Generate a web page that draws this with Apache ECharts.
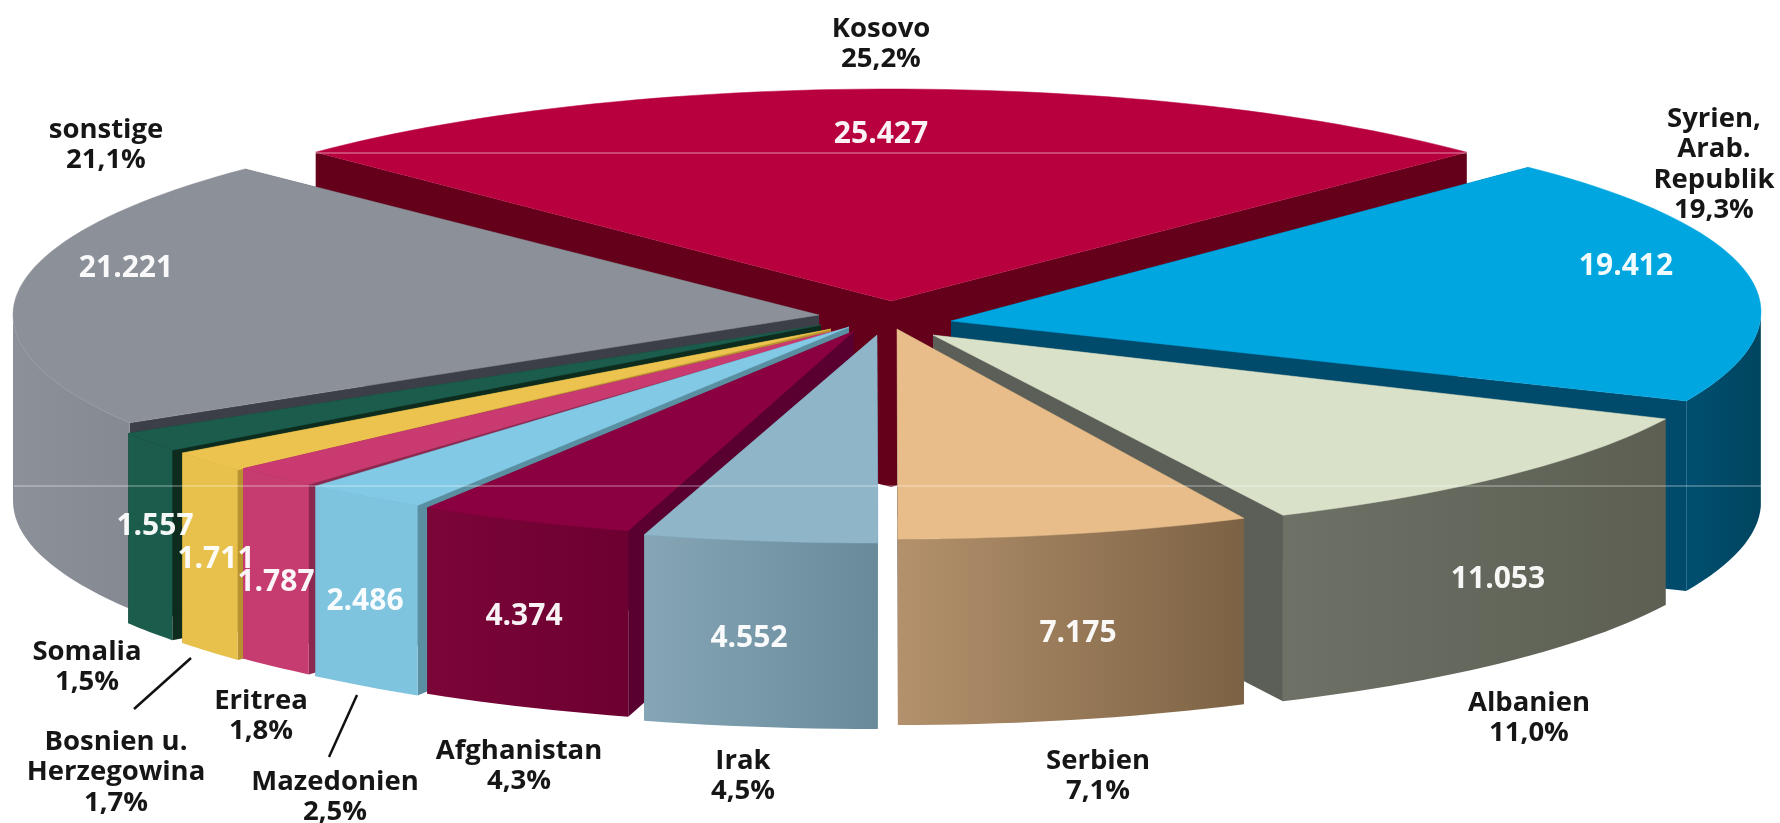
<!DOCTYPE html>
<html><head><meta charset="utf-8">
<style>html,body{margin:0;padding:0;background:#fff}#c{width:1780px;height:823px}</style>
<script src="https://cdn.jsdelivr.net/npm/echarts@6/dist/echarts.min.js"></script>
</head><body><div id="c"></div>
<script>
const categories = ['Kosovo','Syrien, Arab. Republik','Albanien','Serbien','Irak','Afghanistan','Mazedonien','Eritrea','Bosnien u. Herzegowina','Somalia','sonstige'];
const values = [25427,19412,11053,7175,4552,4374,2486,1787,1711,1557,21221];
const valueLabels = ['25.427','19.412','11.053','7.175','4.552','4.374','2.486','1.787','1.711','1.557','21.221'];
const percentLabels = ['25,2%','19,3%','11,0%','7,1%','4,5%','4,3%','2,5%','1,8%','1,7%','1,5%','21,1%'];
const nameLines = [['Kosovo'],['Syrien,','Arab.','Republik'],['Albanien'],['Serbien'],['Irak'],['Afghanistan'],['Mazedonien'],['Eritrea'],['Bosnien u.','Herzegowina'],['Somalia'],['sonstige']];

// Appearance and layout only (pixels of the 1780x823 canvas)
const START_ANGLE = -45.4;
const paintOrder = [0,10,1,9,8,7,6,5,2,4,3];
const geom = [ // cx, cy, rx, ry, depth, shear
 [891,301,808,212,186,0],[951,321,810,210,190,-9],[933,335,807,200,186,0],[897,329,800,210,186,0],
 [877,335,834,208,186,0],[854,331,809,208,186,0],[849,327,818,210,190,0],[843,329,819,205,190,0],
 [831,329,810,207,190,0],[821,325,810,209,190,0],[819,315,806,208,186,0]];
const topColors = ['#b9003e','#00a6e0','#d9e2c9','#e8bd89','#8fb5c9','#8a0040','#82c9e5','#c93a70','#ebc34e','#1b5c4c','#8c9098'];
const wallColors = ['#64001a','#004a6c','#5b5f58','#6b6a60','#5f8a9c','#5a0030','#5a8fa2','#8a2850','#b8922e','#0d2c1e','#3c3f47'];
const sideStops = [['#64001a','#64001a'],['#004f70','#00455f'],['#6d7166','#5c5f52'],['#b3916c','#7c6244'],['#86a6b6','#688a9a'],['#7c0538','#6c0030'],['#7fc4df','#7fc4df'],['#c63c70','#c63c70'],['#e8c04c','#e8c04c'],['#1b5c4c','#1b5c4c'],['#8c9098','#858a92']];
const valuePos = [[881,134],[1626,266],[1498,579],[1078,633],[749,638],[524,616],[365,601],[276,582],[216,559],[155,526],[126,268]];
const namePos = [[881,29],[1714,119],[1529,703],[1098,761],[743,761],[519,751],[335,782],[261,701],[116,742],[87,652],[106,130]];
const hairlines = [[315,153,1467,153,0.55],[14,486,1762,486,0.5]];
const leaders = [[191,658,134,709],[357,695,329,757]];
const FONT = '"Open Sans", "Noto Sans", sans-serif';
const LINE = 30.5;

const total = values.reduce((a,b)=>a+b,0);
const startAngles = []; let acc = START_ANGLE;
values.forEach(v=>{startAngles.push(acc); acc += v/total*360;});

function pt(g,a,dy,api){
  const r = a*Math.PI/180, s = Math.sin(r);
  return api.coord([g[0]+s*g[2], g[1]-Math.cos(r)*g[3]+s*g[5]+(dy||0)]);
}
function renderSlice(params, api){
  const i = api.value(1);
  const g = geom[i], a0 = startAngles[i], a1 = a0 + api.value(0)/total*360, d = g[4];
  const top = [api.coord([g[0],g[1]])];
  const N = Math.max(8,Math.ceil((a1-a0)/1.5));
  const arc = [];
  for(let k=0;k<=N;k++) arc.push(a0+(a1-a0)*k/N);
  arc.forEach(a=>top.push(pt(g,a,0,api)));
  const wall = a => ({type:'polygon',shape:{points:[api.coord([g[0],g[1]]),pt(g,a,0,api),pt(g,a,d,api),api.coord([g[0],g[1]+d])]},style:{fill:wallColors[i]}});
  const children = [wall(a0),wall(a1)];
  // front-facing rim only
  const vis = arc.filter(a=>{const m=((a%360)+360)%360;return m>=90&&m<=270;});
  if(vis.length>1){
    const pts = vis.map(a=>pt(g,a,0,api)).concat(vis.slice().reverse().map(a=>pt(g,a,d,api)));
    children.push({type:'polygon',shape:{points:pts},style:{fill:{type:'linear',x:0,y:0,x2:1,y2:0,colorStops:[{offset:0,color:sideStops[i][0]},{offset:1,color:sideStops[i][1]}]}}});
  }
  children.push({type:'polygon',shape:{points:top},style:{fill:topColors[i],stroke:topColors[i],lineWidth:0.5}});
  return {type:'group',children};
}
function renderLine(params, api){
  const p0 = api.coord([api.value(0),api.value(1)]), p1 = api.coord([api.value(2),api.value(3)]);
  return {type:'line',shape:{x1:p0[0],y1:p0[1],x2:p1[0],y2:p1[1]},style:{stroke:api.value(5)?'#111':'#fff',lineWidth:api.value(5)?2.5:1.2,opacity:api.value(4)}};
}
function renderValue(params, api){
  const i = api.value(0), p = api.coord(valuePos[i]);
  return {type:'text',x:p[0],y:p[1],style:{text:valueLabels[i],fill:'#fff',font:'700 30px '+FONT,align:'center',verticalAlign:'middle',opacity:0.95}};
}
function renderName(params, api){
  const i = api.value(0), p = api.coord(namePos[i]);
  const lines = nameLines[i].concat([percentLabels[i]]);
  return {type:'group',children:lines.map((t,k)=>({type:'text',x:p[0],y:p[1]+k*LINE,style:{text:t,fill:'#161616',font:'700 27.5px '+FONT,align:'center',verticalAlign:'middle'}}))};
}
const idx = values.map((_,i)=>[i]);
const chart = echarts.init(document.getElementById('c'),null,{renderer:'canvas'});
chart.setOption({
  animation:false, backgroundColor:'#fff',
  grid:{left:0,right:0,top:0,bottom:0},
  xAxis:{type:'value',min:0,max:1780,show:false},
  yAxis:{type:'value',min:0,max:823,inverse:true,show:false},
  series:[
    {type:'custom',name:'slices',silent:true,clip:false,coordinateSystem:'cartesian2d',renderItem:renderSlice,encode:{x:1,y:1},data:paintOrder.map(i=>[values[i],i])},
    {type:'custom',name:'hairlines',silent:true,clip:false,renderItem:renderLine,data:hairlines.map(h=>[h[0],h[1],h[2],h[3],h[4],0])},
    {type:'custom',name:'leaders',silent:true,clip:false,renderItem:renderLine,data:leaders.map(h=>[h[0],h[1],h[2],h[3],1,1])},
    {type:'custom',name:'valueLabels',silent:true,clip:false,renderItem:renderValue,data:idx},
    {type:'custom',name:'nameLabels',silent:true,clip:false,renderItem:renderName,data:idx}
  ]
});
</script></body></html>
